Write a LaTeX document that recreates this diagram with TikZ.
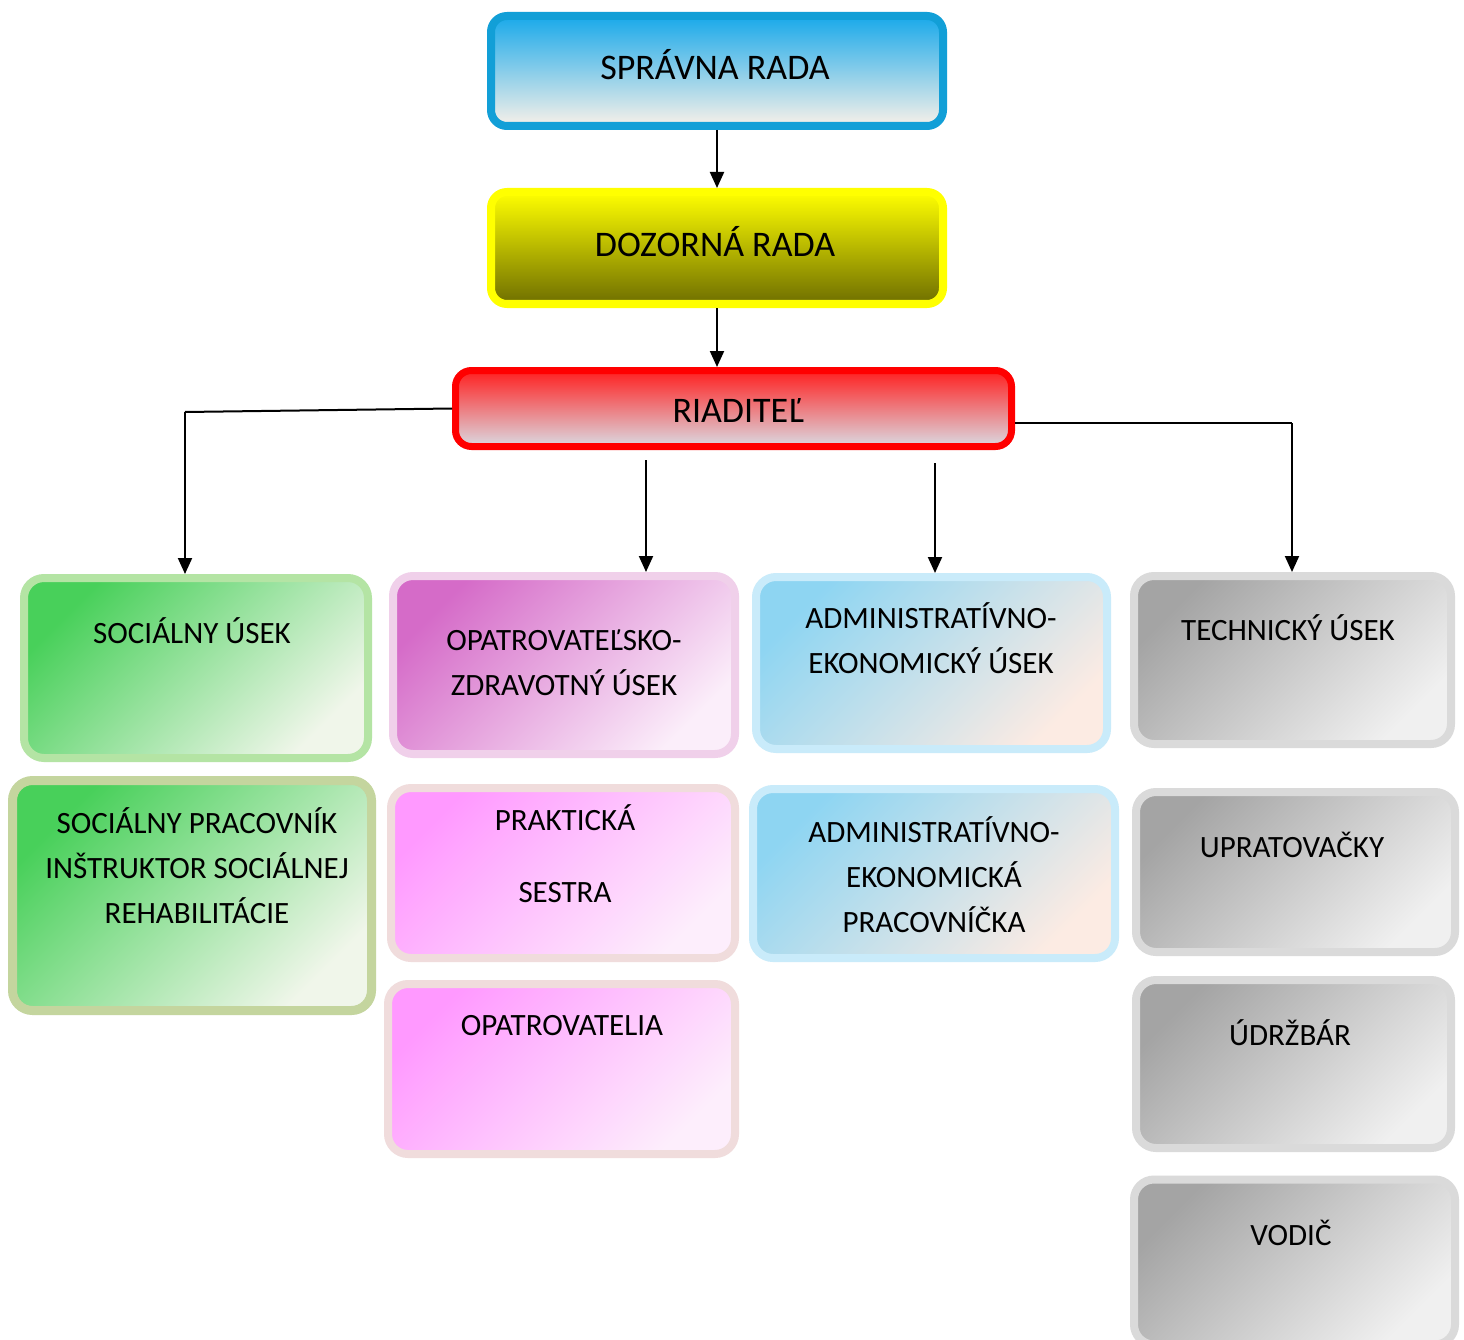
\documentclass[tikz,border=0pt]{standalone}
\usepackage{fontspec}
\setmainfont{Carlito}
\usetikzlibrary{arrows.meta}

\definecolor{sprB}{HTML}{129FD7}
\definecolor{sprT}{HTML}{19A9EA}
\definecolor{sprM}{HTML}{B3D8EE}
\definecolor{sprL}{HTML}{F8F1E9}
\definecolor{dozB}{HTML}{FFFF00}
\definecolor{dozM}{HTML}{D4D400}
\definecolor{dozL}{HTML}{6E6E00}
\definecolor{riaB}{HTML}{FF0000}
\definecolor{riaT}{HTML}{FF2020}
\definecolor{riaM}{HTML}{EE9A9E}
\definecolor{riaL}{HTML}{DADAE2}
\definecolor{grnB}{HTML}{B4E4A4}
\definecolor{grnB2}{HTML}{C4D59E}
\definecolor{grnT}{HTML}{48D05A}
\definecolor{grnL}{HTML}{F0F6EA}
\definecolor{vioB}{HTML}{F0D0EA}
\definecolor{vioT}{HTML}{D56BC8}
\definecolor{vioL}{HTML}{FBEEFA}
\definecolor{pnkB}{HTML}{F0DCDC}
\definecolor{pnkT}{HTML}{FF99FF}
\definecolor{pnkL}{HTML}{FDEEFC}
\definecolor{bluB}{HTML}{C9EBFA}
\definecolor{bluT}{HTML}{8ED5F2}
\definecolor{bluL}{HTML}{FCEBE3}
\definecolor{gryB}{HTML}{DADADA}
\definecolor{gryT}{HTML}{A4A4A4}
\definecolor{gryL}{HTML}{F0F0F0}

\tikzset{
  box/.style={rectangle, line width=8pt, rounded corners=20pt, inner sep=0pt},
  headbox/.style={box, rounded corners=16pt},
  diagbox/.style 2 args={box, top color=#1, bottom color=#2, shading angle=45},
  bigtext/.style={font=\fontsize{36}{45}\selectfont, anchor=base},
  txt/.style={font=\fontsize{31}{45}\selectfont, align=center, anchor=base},
  arr/.style={line width=2pt, -{Triangle[length=16pt,width=14pt]}},
  link/.style={line width=2pt}
}

\begin{document}
\begin{tikzpicture}[x=1pt,y=-1pt]
  \useasboundingbox[fill=white] (0,0) rectangle (1464,1340);

  % top of the chart
  \node[headbox, draw=sprB, top color=sprT, middle color=sprM, bottom color=sprL,
        minimum width=452pt, minimum height=110pt] (sprava) at (717,71) {};
  \node[bigtext] (sprava-t) at (715,80) {SPRÁVNA RADA};

  \node[headbox, draw=dozB, top color=dozB, middle color=dozM, bottom color=dozL,
        minimum width=452pt, minimum height=112pt] (dozor) at (717,248) {};
  \node[bigtext] (dozor-t) at (715,257) {DOZORNÁ RADA};

  \node[headbox, line width=7pt, draw=riaB, top color=riaT, middle color=riaM, bottom color=riaL,
        minimum width=556pt, minimum height=76pt] (riad) at (733.5,408.5) {};
  \node[bigtext] (riad-t) at (738,422) {RIADITEĽ};

  \draw[arr] (sprava.south) -- (dozor.north);
  \draw[arr] (dozor.south) -- (riad.north -| dozor.south);

  % useky
  \node[diagbox={grnT}{grnL}, draw=grnB, minimum width=344pt, minimum height=180pt] (soc) at (196,668) {};
  \node[txt] (soc-t) at (192,643) {SOCIÁLNY ÚSEK};

  \node[diagbox={vioT}{vioL}, draw=vioB, minimum width=342pt, minimum height=178pt] (opz) at (564,665) {};
  \node[txt] (opz-t) at (564,695) {OPATROVATEĽSKO-\\ZDRAVOTNÝ ÚSEK};

  \node[diagbox={bluT}{bluL}, draw=bluB, minimum width=351pt, minimum height=172pt] (adm) at (931.5,663) {};
  \node[txt] (adm-t) at (931,673) {ADMINISTRATÍVNO-\\EKONOMICKÝ ÚSEK};

  \node[diagbox={gryT}{gryL}, draw=gryB, minimum width=317pt, minimum height=168pt] (tech) at (1292.5,660) {};
  \node[txt] (tech-t) at (1288,640) {TECHNICKÝ ÚSEK};

  % connectors from riaditel
  \coordinate (jl) at (185,412);
  \coordinate (jr) at (1292,423);
  \coordinate (m1) at (646,460);
  \coordinate (m2) at (935,463);
  \draw[link] (riad.west) -- (jl);
  \draw[arr] (jl) -- (jl |- soc.north);
  \draw[link] (riad.east |- jr) -- (jr);
  \draw[arr] (jr) -- (jr |- tech.north);
  \draw[arr] (m1) -- (m1 |- opz.north);
  \draw[arr] (m2) -- (m2 |- adm.north);

  % pracovnici
  \node[diagbox={grnT}{grnL}, draw=grnB2, line width=9pt, minimum width=359pt, minimum height=230pt] (socp) at (192,895.5) {};
  \node[txt] (socp-t) at (197,923) {SOCIÁLNY PRACOVNÍK\\INŠTRUKTOR SOCIÁLNEJ\\REHABILITÁCIE};

  \node[diagbox={pnkT}{pnkL}, draw=pnkB, minimum width=344pt, minimum height=170pt] (prak) at (563,873) {};
  \node[txt] (prak-t) at (565,902) {PRAKTICKÁ\\[27pt]SESTRA};

  \node[diagbox={pnkT}{pnkL}, draw=pnkB, minimum width=347pt, minimum height=170pt] (opat) at (561.5,1069) {};
  \node[txt] (opat-t) at (562,1035) {OPATROVATELIA};

  \node[diagbox={bluT}{bluL}, draw=bluB, minimum width=362pt, minimum height=169pt] (admp) at (934,873.5) {};
  \node[txt] (admp-t) at (934,932) {ADMINISTRATÍVNO-\\EKONOMICKÁ\\PRACOVNÍČKA};

  \node[diagbox={gryT}{gryL}, draw=gryB, minimum width=319pt, minimum height=160pt] (upr) at (1295.5,872) {};
  \node[txt] (upr-t) at (1292,857) {UPRATOVAČKY};

  \node[diagbox={gryT}{gryL}, draw=gryB, minimum width=315pt, minimum height=168pt] (udr) at (1293.5,1064) {};
  \node[txt] (udr-t) at (1290,1045) {ÚDRŽBÁR};

  \node[diagbox={gryT}{gryL}, draw=gryB, minimum width=321pt, minimum height=165pt] (vod) at (1294.5,1262) {};
  \node[txt] (vod-t) at (1291,1245) {VODIČ};
\end{tikzpicture}
\end{document}
